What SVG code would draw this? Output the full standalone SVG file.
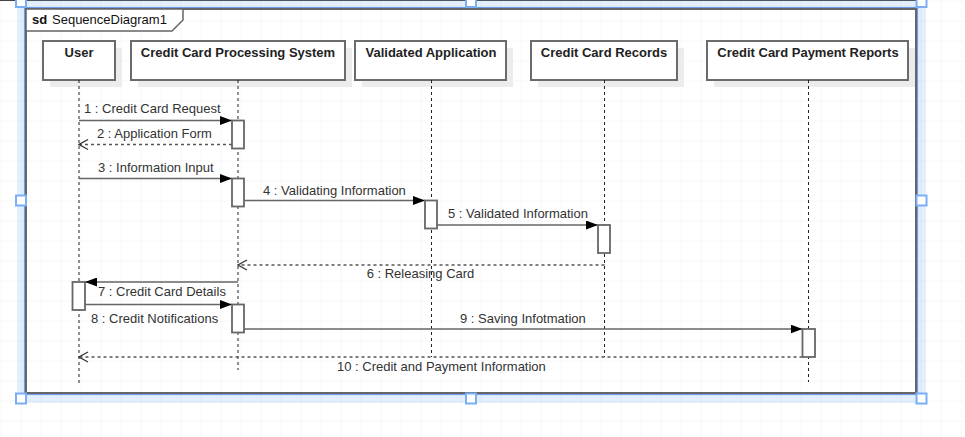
<svg xmlns="http://www.w3.org/2000/svg" width="965" height="437" viewBox="0 0 965 437">
<defs>
<pattern id="grid" x="0.5" y="0.5" width="20" height="20" patternUnits="userSpaceOnUse">
<path d="M20,0 H0 V20" fill="none" stroke="#eeeeee" stroke-width="1"/>
</pattern>
<marker id="fill" viewBox="0 0 12 9" refX="12" refY="4.5" markerWidth="12" markerHeight="9" markerUnits="userSpaceOnUse" orient="auto">
<path d="M0,0 L12,4.5 L0,9 Z" fill="#000"/>
</marker>
<marker id="open" viewBox="0 0 11 12" refX="10" refY="6" markerWidth="11" markerHeight="12" markerUnits="userSpaceOnUse" orient="auto">
<path d="M1,1 L10,6 L1,11" fill="none" stroke="#333" stroke-width="1.2"/>
</marker>
</defs>
<style>
.hdr{fill:#fff;stroke:#6b6b6b;stroke-width:2}
.shadow{fill:#ececec}
.hdrt{font-family:"Liberation Sans",Arial,sans-serif;font-size:13px;font-weight:bold;fill:#222;text-anchor:middle}
.life{stroke:#222;stroke-width:1;stroke-dasharray:3 3;fill:none}
.msg{stroke:#666;stroke-width:1.5;fill:none}
.ret{stroke:#555;stroke-width:1.5;stroke-dasharray:3 3;fill:none}
.act{fill:#fff;stroke:#666;stroke-width:1.8}
.lbl{font-family:"Liberation Sans",Arial,sans-serif;font-size:13px;fill:#333}
.handle{fill:#fff;stroke:#7aaef5;stroke-width:2}
</style>
<rect width="965" height="437" fill="#fff"/>
<rect width="965" height="437" fill="url(#grid)"/>
<line x1="0" y1="0.5" x2="918" y2="0.5" stroke="#444" stroke-width="1"/>
<rect x="21.5" y="3.5" width="900" height="395" fill="none" stroke="#7aaef5" stroke-opacity="0.2" stroke-width="9"/>
<g id="frame">
<rect x="24.5" y="7.5" width="893" height="387" fill="none" stroke="#6d9eeb" stroke-width="1.2"/>
<rect x="26" y="9" width="890" height="384" fill="none" stroke="#666" stroke-width="2"/>
<path d="M26,9 H183 V20 L172,31 H26 Z" fill="#fff" stroke="#666" stroke-width="1.5"/>
<text x="32" y="24" font-family="Liberation Sans, Arial, sans-serif" font-size="13" font-weight="bold" fill="#111">sd</text>
<text x="52" y="24" font-family="Liberation Sans, Arial, sans-serif" font-size="13" fill="#111">SequenceDiagram1</text>
</g>
<g id="handles">
<rect class="handle" x="16" y="-3" width="10" height="10"/>
<rect class="handle" x="466" y="-3" width="10" height="10"/>
<rect class="handle" x="916.5" y="-3" width="10" height="10"/>
<rect class="handle" x="16" y="195.5" width="10" height="10"/>
<rect class="handle" x="916.5" y="195.5" width="10" height="10"/>
<rect class="handle" x="16" y="393.5" width="10" height="10"/>
<rect class="handle" x="466" y="393.5" width="10" height="10"/>
<rect class="handle" x="916.5" y="393.5" width="10" height="10"/>
</g>
<g id="user">
<rect class="shadow" x="50" y="48" width="72" height="39"/>
<rect class="hdr" x="43" y="41" width="72" height="39"/>
<text class="hdrt" x="79" y="57">User</text>
<line class="life" x1="79" y1="80" x2="79" y2="383"/>
</g>
<g id="ccps">
<rect class="shadow" x="138" y="48" width="214" height="39"/>
<rect class="hdr" x="131" y="41" width="214" height="39"/>
<text class="hdrt" x="238" y="57">Credit Card Processing System</text>
<line class="life" x1="238" y1="80" x2="238" y2="370"/>
</g>
<g id="validated">
<rect class="shadow" x="362" y="48" width="151" height="39"/>
<rect class="hdr" x="355" y="41" width="151" height="39"/>
<text class="hdrt" x="431" y="57">Validated Application</text>
<line class="life" x1="431.5" y1="80" x2="431.5" y2="357"/>
</g>
<g id="records">
<rect class="shadow" x="538" y="48" width="146" height="39"/>
<rect class="hdr" x="531" y="41" width="146" height="39"/>
<text class="hdrt" x="604" y="57">Credit Card Records</text>
<line class="life" x1="604.5" y1="80" x2="604.5" y2="357"/>
</g>
<g id="payments">
<rect class="shadow" x="714" y="48" width="201" height="39"/>
<rect class="hdr" x="707" y="41" width="201" height="39"/>
<text class="hdrt" x="808" y="57">Credit Card Payment Reports</text>
<line class="life" x1="808.5" y1="80" x2="808.5" y2="382"/>
</g>
<g id="connectors">
<line class="msg" x1="79" y1="120.5" x2="232" y2="120.5" marker-end="url(#fill)"/>
<line class="ret" x1="232" y1="144.5" x2="79" y2="144.5" marker-end="url(#open)"/>
<line class="msg" x1="79" y1="178.5" x2="232" y2="178.5" marker-end="url(#fill)"/>
<line class="msg" x1="244" y1="200.5" x2="425" y2="200.5" marker-end="url(#fill)"/>
<line class="msg" x1="437" y1="225" x2="598" y2="225" marker-end="url(#fill)"/>
<line class="ret" x1="604.5" y1="265" x2="238" y2="265" marker-end="url(#open)"/>
<line class="msg" x1="238" y1="282" x2="85" y2="282" marker-end="url(#fill)"/>
<line class="msg" x1="85" y1="304.5" x2="232" y2="304.5" marker-end="url(#fill)"/>
<line class="msg" x1="244" y1="329" x2="802.5" y2="329" marker-end="url(#fill)"/>
<line class="ret" x1="802.5" y1="357" x2="79" y2="357" marker-end="url(#open)"/>
</g>
<g id="activations">
<rect class="act" x="232" y="120.5" width="12" height="28"/>
<rect class="act" x="232" y="178.5" width="12" height="28"/>
<rect class="act" x="232" y="304.5" width="12" height="28"/>
<rect class="act" x="425" y="200.5" width="12" height="28"/>
<rect class="act" x="598" y="225" width="12" height="28"/>
<rect class="act" x="72.5" y="282" width="12.5" height="28"/>
<rect class="act" x="802.5" y="329" width="12.5" height="28"/>
</g>
<g id="labels">
<text class="lbl" x="84" y="113">1 : Credit Card Request</text>
<text class="lbl" x="97" y="138">2 : Application Form</text>
<text class="lbl" x="98" y="172">3 : Information Input</text>
<text class="lbl" x="263" y="195">4 : Validating Information</text>
<text class="lbl" x="448" y="218">5 : Validated Information</text>
<text class="lbl" x="420.5" y="278" text-anchor="middle">6 : Releasing Card</text>
<text class="lbl" x="98" y="296">7 : Credit Card Details</text>
<text class="lbl" x="91" y="323">8 : Credit Notifications</text>
<text class="lbl" x="460" y="323">9 : Saving Infotmation</text>
<text class="lbl" x="337" y="371">10 : Credit and Payment Information</text>
</g>
</svg>
